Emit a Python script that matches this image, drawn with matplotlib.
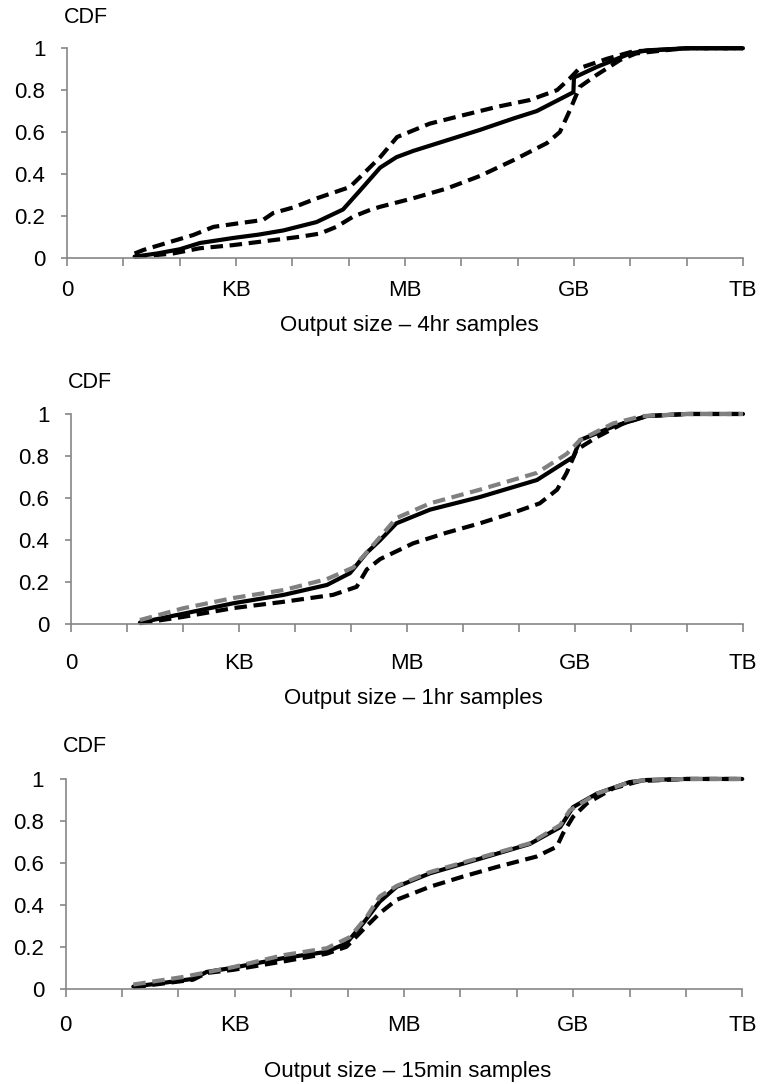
import numpy as np
import matplotlib
matplotlib.use('Agg')
from matplotlib import pyplot as plt

plt.rcParams['font.family'] = ['Liberation Sans', 'DejaVu Sans']

#%% data: x = log10(bytes), y = CDF
tick_labels = ['0', '', '', 'KB', '', '', 'MB', '', '', 'GB', '', '', 'TB']
titles = ['Output size \u2013 4hr samples',
          'Output size \u2013 1hr samples',
          'Output size \u2013 15min samples']

# 4hr panel
p1_solid_x = [1.2, 1.6, 2.0, 2.36, 2.95, 3.4, 3.84, 4.43, 4.9, 5.2, 5.56, 5.85, 6.15, 6.74, 7.33, 7.93, 8.34, 8.99, 9.0, 9.4, 10.0, 10.3, 11, 12]
p1_solid_y = [0.005, 0.02, 0.04, 0.07, 0.094, 0.11, 0.13, 0.17, 0.23, 0.32, 0.43, 0.48, 0.51, 0.56, 0.61, 0.665, 0.70, 0.79, 0.86, 0.91, 0.975, 0.99, 1.0, 1.0]
p1_hi_x = [1.2, 1.36, 1.89, 2.24, 2.6, 3.07, 3.48, 3.66, 4.02, 4.43, 5.02, 5.26, 5.56, 5.86, 6.44, 7.03, 7.63, 8.22, 8.7, 8.93, 9.1, 9.59, 10.05, 10.4, 11, 12]
p1_hi_y = [0.02, 0.037, 0.08, 0.108, 0.147, 0.165, 0.18, 0.213, 0.24, 0.283, 0.337, 0.40, 0.48, 0.576, 0.64, 0.68, 0.72, 0.753, 0.80, 0.857, 0.905, 0.95, 0.985, 0.99, 1.0, 1.0]
p1_lo_x = [1.2, 1.88, 2.36, 2.95, 3.55, 4.14, 4.49, 4.79, 5.08, 5.38, 5.56, 6.15, 6.74, 7.33, 7.93, 8.52, 8.75, 8.93, 9.1, 9.4, 9.82, 10.1, 10.6, 11, 12]
p1_lo_y = [0.003, 0.02, 0.045, 0.06, 0.08, 0.10, 0.115, 0.148, 0.196, 0.228, 0.243, 0.284, 0.33, 0.39, 0.466, 0.547, 0.60, 0.705, 0.815, 0.872, 0.944, 0.975, 0.99, 1.0, 1.0]

# 1hr panel
p2_solid_x = [1.23, 2.0, 2.9, 3.8, 4.57, 4.98, 5.28, 5.52, 5.81, 6.41, 7.3, 8.32, 8.97, 9.09, 9.68, 10.28, 11, 12]
p2_solid_y = [0.008, 0.05, 0.10, 0.14, 0.187, 0.243, 0.34, 0.40, 0.48, 0.545, 0.605, 0.686, 0.796, 0.876, 0.94, 0.99, 1.0, 1.0]
p2_gray_x = [1.23, 2.0, 2.9, 3.8, 4.57, 5.04, 5.34, 5.52, 5.81, 6.41, 7.3, 8.32, 8.85, 9.09, 9.68, 10.2, 11, 12]
p2_gray_y = [0.02, 0.076, 0.125, 0.163, 0.215, 0.27, 0.36, 0.415, 0.505, 0.575, 0.64, 0.72, 0.81, 0.876, 0.955, 0.99, 1.0, 1.0]
p2_dash_x = [1.23, 2.0, 2.9, 3.8, 4.68, 5.1, 5.28, 5.52, 6.11, 6.7, 7.3, 7.89, 8.37, 8.68, 8.85, 9.03, 9.39, 9.86, 10.28, 11, 12]
p2_dash_y = [0.005, 0.035, 0.077, 0.107, 0.14, 0.178, 0.26, 0.31, 0.385, 0.435, 0.48, 0.53, 0.575, 0.64, 0.72, 0.83, 0.89, 0.955, 0.99, 1.0, 1.0]

# 15min panel
p3_solid_x = [1.2, 1.79, 2.26, 2.5, 2.97, 3.86, 4.63, 4.98, 5.27, 5.57, 5.87, 6.46, 7.35, 8.23, 8.77, 9.0, 9.42, 10.0, 10.3, 11, 12]
p3_solid_y = [0.01, 0.03, 0.047, 0.08, 0.10, 0.146, 0.176, 0.217, 0.31, 0.415, 0.486, 0.55, 0.62, 0.69, 0.77, 0.866, 0.93, 0.985, 0.995, 1.0, 1.0]
p3_gray_x = [1.2, 2.08, 2.97, 3.86, 4.63, 5.04, 5.34, 5.57, 5.87, 6.46, 7.35, 8.23, 8.77, 8.94, 9.42, 10.0, 10.3, 11, 12]
p3_gray_y = [0.02, 0.056, 0.103, 0.16, 0.193, 0.246, 0.343, 0.44, 0.49, 0.556, 0.625, 0.693, 0.78, 0.85, 0.93, 0.985, 0.995, 1.0, 1.0]
p3_dash_x = [1.2, 1.79, 2.26, 2.5, 2.97, 3.86, 4.63, 4.98, 5.27, 5.57, 5.87, 6.46, 7.05, 7.64, 8.35, 8.71, 8.82, 9.0, 9.25, 9.71, 10.18, 11, 12]
p3_dash_y = [0.007, 0.027, 0.043, 0.075, 0.09, 0.13, 0.167, 0.2, 0.28, 0.36, 0.424, 0.486, 0.535, 0.58, 0.63, 0.677, 0.74, 0.82, 0.885, 0.955, 0.99, 1.0, 1.0]

#%% layout (figure fractions) and per-panel text offsets
axpos = [[0.0879, 0.7623, 0.8871, 0.1932],
         [0.0932, 0.4241, 0.8819, 0.1940],
         [0.0862, 0.0879, 0.8879, 0.1935]]
xpads = [10, 15, 13]
title_y = [-0.325, -0.352, -0.396]
title_x = [0.507, 0.51, 0.506]
cdf_y = [1.147, 1.152, 1.153]

spine_col = '#868686'
lw = 3.0
dash = (3, 1.6)

fig = plt.figure(figsize=(7.62, 10.84), dpi=100)

panels = [
    [(p1_solid_x, p1_solid_y, 'k', None), (p1_hi_x, p1_hi_y, 'k', dash), (p1_lo_x, p1_lo_y, 'k', dash)],
    [(p2_solid_x, p2_solid_y, 'k', None), (p2_dash_x, p2_dash_y, 'k', dash), (p2_gray_x, p2_gray_y, '#808080', dash)],
    [(p3_solid_x, p3_solid_y, 'k', None), (p3_dash_x, p3_dash_y, 'k', dash), (p3_gray_x, p3_gray_y, '#808080', dash)],
]

for i in range(3):
    ax = fig.add_axes(axpos[i])
    for xs, ys, col, ds in panels[i]:
        if ds is None:
            ax.plot(xs, ys, color=col, lw=lw, solid_capstyle='round', clip_on=False)
        else:
            ax.plot(xs, ys, color=col, lw=lw, dashes=ds, dash_capstyle='butt', clip_on=False)

    ax.set_xlim(0, 12)
    ax.set_ylim(0, 1)
    ax.set_xticks(range(13))
    ax.set_xticklabels(tick_labels)
    ax.set_yticks([0, 0.2, 0.4, 0.6, 0.8, 1])
    ax.set_yticklabels(['0', '0.2', '0.4', '0.6', '0.8', '1'])
    for s in ['top', 'right']:
        ax.spines[s].set_visible(False)
    for s in ['left', 'bottom']:
        ax.spines[s].set_color(spine_col)
        ax.spines[s].set_linewidth(1.2)
    ax.tick_params(axis='x', length=6, width=1.2, color=spine_col, labelsize=16, pad=xpads[i])
    ax.tick_params(axis='y', length=4.5, width=1.2, color=spine_col, labelsize=16, pad=11)
    ax.text(-0.004, cdf_y[i], 'CDF', transform=ax.transAxes, fontsize=15.5, ha='left', va='center')
    ax.text(title_x[i], title_y[i], titles[i], transform=ax.transAxes, fontsize=16, ha='center', va='center')

plt.savefig('out.png', dpi=100)
